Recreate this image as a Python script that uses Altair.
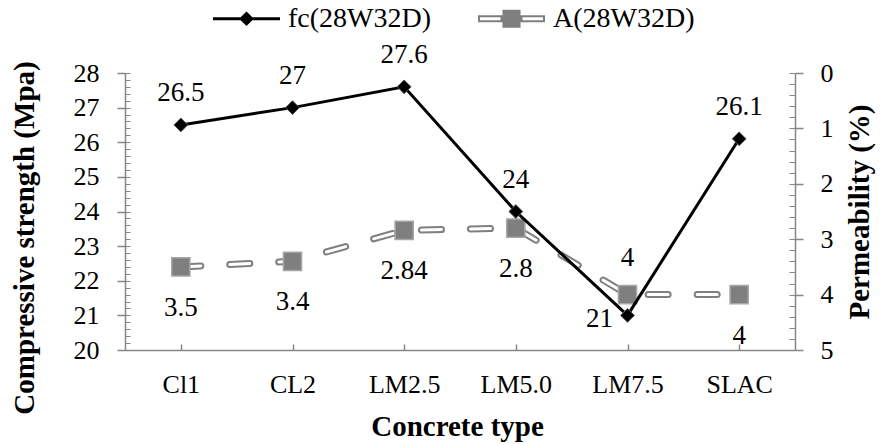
import altair as alt
import pandas as pd

categories = ["Cl1", "CL2", "LM2.5", "LM5.0", "LM7.5", "SLAC"]
fc_values = [26.5, 27, 27.6, 24, 21, 26.1]
a_values = [3.5, 3.4, 2.84, 2.8, 4, 4]
series_names = ["fc(28W32D)", "A(28W32D)"]
left_major = [20, 21, 22, 23, 24, 25, 26, 27, 28]
right_major = [0, 1, 2, 3, 4, 5]
left_minor = [round(20 + 0.2 * i, 1) for i in range(41)]
right_minor = [round(0.2 * i, 1) for i in range(26)]

df = pd.DataFrame({"cat": categories, "fc": fc_values, "A": a_values})
legend_df = pd.DataFrame({"series": series_names})

W, H = 670, 277
FONT = "Liberation Serif"
AX = "#868686"
SQ_FILL = "#7f7f7f"
SQ_STROKE = "#a6a6a6"
FS_TICK = 26
FS_DATA = 27
FS_LEG = 28
FS_TITLE = 29

xscale = alt.Scale(type="point", padding=0.5)
left_scale = alt.Scale(domain=[20, 28], nice=False, zero=False)
right_scale = alt.Scale(domain=[0, 5], reverse=True, nice=False, zero=False)

base = alt.Chart(df)

# ---------- A (permeability) group, right axis ----------
xA = alt.X("cat:N", sort=categories, scale=xscale, axis=None)
yA = alt.Y("A:Q", scale=right_scale,
           axis=alt.Axis(orient="right", values=right_major, tickSize=8, tickWidth=1.5,
                         tickColor=AX, domainColor=AX, domainWidth=1.5, grid=False,
                         labelFont=FONT, labelFontSize=FS_TICK, labelColor="black", labelPadding=17,
                         title="Permeability (%)", titleFont=FONT, titleFontSize=FS_TITLE,
                         titleFontWeight="bold", titleColor="black", titleAngle=270,
                         titleX=64, titleY=H / 2, titleAlign="center", titleBaseline="middle"))

a_outer = base.mark_line(color=SQ_FILL, strokeWidth=7, strokeDash=[20, 29], strokeCap="round").encode(x=xA, y=yA)
a_inner = base.mark_line(color="white", strokeWidth=3, strokeDash=[20, 29], strokeCap="round").encode(x=xA, y=yA)
a_pts = base.mark_point(shape="square", filled=True, fill=SQ_FILL, stroke=SQ_STROKE,
                        strokeWidth=1.5, size=330, opacity=1).encode(x=xA, y=yA)
a_lab_below = base.transform_filter(alt.datum.cat != "LM7.5").mark_text(
    font=FONT, fontSize=FS_DATA, color="black", baseline="middle", dy=41
).encode(x=xA, y=yA, text=alt.Text("A:Q", format="~g"))
a_lab_above = base.transform_filter(alt.datum.cat == "LM7.5").mark_text(
    font=FONT, fontSize=FS_DATA, color="black", baseline="middle", dy=-37
).encode(x=xA, y=yA, text=alt.Text("A:Q", format="~g"))

a_group = alt.layer(a_outer, a_inner, a_pts, a_lab_below, a_lab_above)

# ---------- fc (strength) group, left axis ----------
xF = alt.X("cat:N", sort=categories, scale=xscale,
           axis=alt.Axis(orient="bottom", ticks=False, domainColor=AX, domainWidth=1.5,
                         labelFont=FONT, labelFontSize=FS_TICK, labelColor="black", labelPadding=21,
                         labelAngle=0, title="Concrete type", titleFont=FONT, titleFontSize=FS_TITLE,
                         titleFontWeight="bold", titleColor="black",
                         titleX=W / 2 - 3, titleY=76, titleAlign="center", titleBaseline="middle"))
yF = alt.Y("fc:Q", scale=left_scale,
           axis=alt.Axis(orient="left", values=left_major, tickSize=8, tickWidth=1.5,
                         tickColor=AX, domainColor=AX, domainWidth=1.5, grid=False,
                         labelFont=FONT, labelFontSize=FS_TICK, labelColor="black", labelPadding=18,
                         title="Compressive strength (Mpa)", titleFont=FONT, titleFontSize=FS_TITLE,
                         titleFontWeight="bold", titleColor="black", titleAngle=270,
                         titleX=-101, titleY=H / 2 + 26, titleAlign="center", titleBaseline="middle"))

fc_line = base.mark_line(color="black", strokeWidth=3).encode(x=xF, y=yF)
fc_pts = base.mark_point(shape="diamond", filled=True, fill="black", stroke="#555555",
                         strokeWidth=1, size=190, opacity=1).encode(x=xF, y=yF)
fc_lab = base.transform_filter(alt.datum.cat != "LM7.5").mark_text(
    font=FONT, fontSize=FS_DATA, color="black", baseline="middle", dy=-32
).encode(x=xF, y=yF, text=alt.Text("fc:Q", format="~g"))
fc_lab_left = base.transform_filter(alt.datum.cat == "LM7.5").mark_text(
    font=FONT, fontSize=FS_DATA, color="black", baseline="middle", dx=-28, dy=4
).encode(x=xF, y=yF, text=alt.Text("fc:Q", format="~g"))

path_fc = "M-1,-0.045H1V0.045H-1Z M0,-0.22L0.22,0L0,0.22L-0.22,0Z"
path_a = ("M-1,-0.105H-0.27V0.105H-1Z M-0.94,-0.045V0.045H-0.33V-0.045Z "
          "M0.27,-0.105H1V0.105H0.27Z M0.33,-0.045V0.045H0.94V-0.045Z "
          "M-0.27,-0.27H0.27V0.27H-0.27Z")

leg = alt.Legend(title=None, orient="none", legendX=88, legendY=-88, direction="horizontal",
                 labelFont=FONT, labelFontSize=FS_LEG, labelColor="black", labelOffset=8,
                 columnPadding=46, symbolSize=4489, symbolStrokeWidth=0, symbolOpacity=1,
                 padding=0, labelLimit=400)
legend_layer = alt.Chart(legend_df).mark_point(filled=True, opacity=0).encode(
    color=alt.Color("series:N", scale=alt.Scale(domain=series_names, range=["black", SQ_FILL]), legend=leg),
    shape=alt.Shape("series:N", scale=alt.Scale(domain=series_names, range=[path_fc, path_a]), legend=leg),
)

fc_group = alt.layer(fc_line, fc_pts, fc_lab, fc_lab_left, legend_layer)

# ---------- minor tick groups ----------
minorL = base.mark_point(opacity=0).encode(
    x=alt.X("cat:N", sort=categories, scale=xscale,
            axis=alt.Axis(orient="top", offset=-H, labels=False, domain=False, tickSize=6,
                          tickWidth=1.5, tickColor=AX, title=None, grid=False)),
    y=alt.Y("fc:Q", scale=left_scale,
            axis=alt.Axis(orient="right", offset=-W, values=left_minor, labels=False, domain=False,
                          tickSize=5, tickWidth=1, tickColor=AX, title=None, grid=False)),
)
minorR = base.mark_point(opacity=0).encode(
    x=alt.X("cat:N", sort=categories, scale=xscale, axis=None),
    y=alt.Y("A:Q", scale=right_scale,
            axis=alt.Axis(orient="left", offset=-W, values=right_minor, labels=False, domain=False,
                          tickSize=6, tickWidth=1, tickColor=AX, title=None, grid=False)),
)

chart = alt.layer(a_group, fc_group, minorL, minorR).resolve_scale(
    y="independent", x="independent"
).properties(
    width=W, height=H,
    padding={"left": 125, "top": 73, "right": 86, "bottom": 94},
    autosize=alt.AutoSizeParams(type="none"),
    background="white",
).configure_view(stroke=None)

chart.save("out.html", embed_options={"renderer": "svg", "actions": False})
